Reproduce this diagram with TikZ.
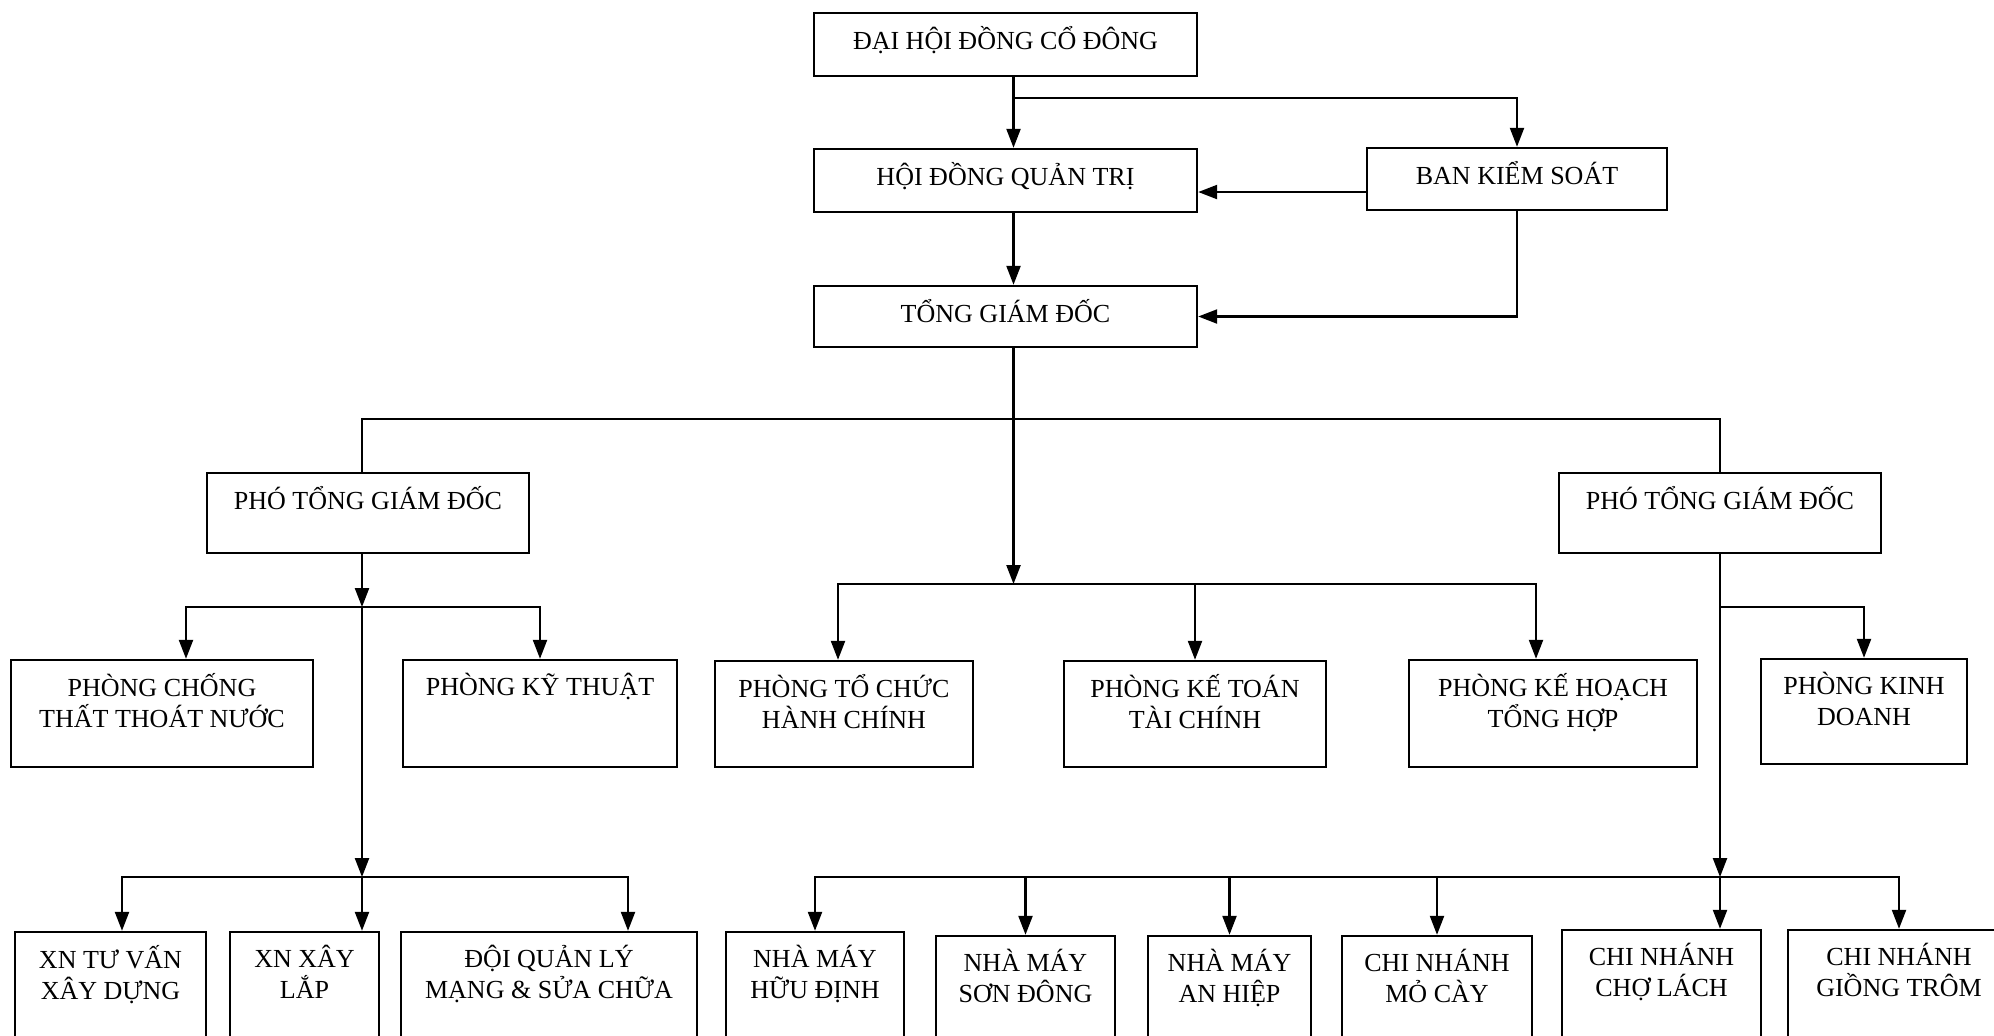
\documentclass[tikz,border=0pt]{standalone}
\usepackage{fontspec}
\setmainfont{Liberation Serif}
\usetikzlibrary{arrows.meta, positioning, fit}

\begin{document}
\begin{tikzpicture}[x=0.01cm, y=-0.01cm,
  box/.style={draw, line width=0.7pt, inner sep=0pt},
  lbl/.style={align=center, inner sep=0pt, font=\fontsize{7.4}{8.65}\selectfont},
  arr/.style={line width=0.6pt, -{Triangle[length=5.4pt, width=4pt]}}]
\useasboundingbox (0,0) rectangle (1994,1035);
%
\node[box, fit={(814,13) (1197,76)}]    (dh)  {};
\node[box, fit={(814,149) (1197,212)}]  (hd)  {};
\node[box, fit={(1367,148) (1667,210)}] (bk)  {};
\node[box, fit={(814,286) (1197,347)}]  (tg)  {};
\node[box, fit={(207,473) (529,553)}]   (pl)  {};
\node[box, fit={(1559,473) (1881,553)}] (pr)  {};
%
\node[box, fit={(11,660) (313,767)}]    (pc)  {};
\node[box, fit={(403,660) (677,767)}]   (kt)  {};
\node[box, fit={(715,661) (973,767)}]   (tc)  {};
\node[box, fit={(1064,661) (1326,767)}] (kte) {};
\node[box, fit={(1409,660) (1697,767)}] (kh)  {};
\node[box, fit={(1761,659) (1967,764)}] (kd)  {};
%
\node[box, fit={(15,932) (206,1100)}]   (tv)  {};
\node[box, fit={(230,932) (379,1100)}]  (xl)  {};
\node[box, fit={(401,932) (697,1100)}]  (dq)  {};
\node[box, fit={(726,932) (904,1100)}]  (hu)  {};
\node[box, fit={(936,936) (1115,1100)}] (so)  {};
\node[box, fit={(1148,936) (1311,1100)}] (ah) {};
\node[box, fit={(1342,936) (1532,1100)}] (mc) {};
\node[box, fit={(1562,930) (1761,1100)}] (cl) {};
\node[box, fit={(1788,930) (2010,1100)}] (gt) {};
%
\node[lbl, below=4pt of dh.north]  (dh-t)  {ĐẠI HỘI ĐỒNG CỔ ĐÔNG};
\node[lbl, below=4pt of hd.north]  (hd-t)  {HỘI ĐỒNG QUẢN TRỊ};
\node[lbl, below=4pt of bk.north]  (bk-t)  {BAN KIỂM SOÁT};
\node[lbl, below=4pt of tg.north]  (tg-t)  {TỔNG GIÁM ĐỐC};
\node[lbl, below=4pt of pl.north]  (pl-t)  {PHÓ TỔNG GIÁM ĐỐC};
\node[lbl, below=4pt of pr.north]  (pr-t)  {PHÓ TỔNG GIÁM ĐỐC};
\node[lbl, below=4pt of pc.north]  (pc-t)  {PHÒNG CHỐNG\\THẤT THOÁT NƯỚC};
\node[lbl, below=4pt of kt.north]  (kt-t)  {PHÒNG KỸ THUẬT};
\node[lbl, below=4pt of tc.north]  (tc-t)  {PHÒNG TỔ CHỨC\\HÀNH CHÍNH};
\node[lbl, below=4pt of kte.north] (kte-t) {PHÒNG KẾ TOÁN\\TÀI CHÍNH};
\node[lbl, below=4pt of kh.north]  (kh-t)  {PHÒNG KẾ HOẠCH\\TỔNG HỢP};
\node[lbl, below=4pt of kd.north]  (kd-t)  {PHÒNG KINH\\DOANH};
\node[lbl, below=4pt of tv.north]  (tv-t)  {XN TƯ VẤN\\XÂY DỰNG};
\node[lbl, below=4pt of xl.north]  (xl-t)  {XN XÂY\\LẮP};
\node[lbl, below=4pt of dq.north]  (dq-t)  {ĐỘI QUẢN LÝ\\MẠNG \& SỬA CHỮA};
\node[lbl, below=4pt of hu.north]  (hu-t)  {NHÀ MÁY\\HỮU ĐỊNH};
\node[lbl, below=4pt of so.north]  (so-t)  {NHÀ MÁY\\SƠN ĐÔNG};
\node[lbl, below=4pt of ah.north]  (ah-t)  {NHÀ MÁY\\AN HIỆP};
\node[lbl, below=4pt of mc.north]  (mc-t)  {CHI NHÁNH\\MỎ CÀY};
\node[lbl, below=4pt of cl.north]  (cl-t)  {CHI NHÁNH\\CHỢ LÁCH};
\node[lbl, below=4pt of gt.north]  (gt-t)  {CHI NHÁNH\\GIỒNG TRÔM};
%
\coordinate (ds) at ([xshift=0.08cm]dh.south);
\coordinate (ts) at ([xshift=0.08cm]tg.south);
\draw[arr] (ds) -- (ds |- hd.north);
\draw[arr] (ds) ++(0,21) -| (bk.north);
\draw[arr] (ds |- hd.south) -- (ds |- tg.north);
\coordinate (bkin) at ([yshift=-0.13cm]bk.west);
\draw[arr] (bkin) -- (bkin -| hd.east);
\draw[arr] (bk.south) |- (tg.east);
%
\coordinate (ps) at ([xshift=-0.06cm]pl.south);
\draw[line width=0.6pt] (ps |- pl.north) -- ++(0,-53) -| (pr.north);
\coordinate (mb) at (ts |- 0,584);
\draw[arr] (ts) -- (mb);
\draw[arr] (mb) -| (tc.north -| 838,0);
\draw[arr] (mb) -| (kte.north);
\draw[arr] (mb) -| (kh.north -| 1536,0);
%
\coordinate (lb1) at (ps |- 0,607);
\coordinate (lb2) at (ps |- 0,877);
\draw[arr] (ps) -- (lb1);
\draw[arr] (lb1) -- (lb2);
\draw[arr] (lb1) -| (pc.north -| 186,0);
\draw[arr] (lb1) -| (kt.north);
\draw[arr] (lb2) -- (lb2 |- xl.north);
\draw[arr] (lb2) -| (tv.north -| 122,0);
\draw[arr] (lb2) -| (dq.north -| 628,0);
%
\coordinate (rb1) at (pr.south |- 0,607);
\coordinate (rb2) at (pr.south |- 0,877);
\draw[arr] (pr.south) -- (rb2);
\draw[arr] (rb1) -| (kd.north);
\draw[arr] (rb2) -- (rb2 |- cl.north);
\draw[arr] (rb2) -| (hu.north);
\draw[arr] (rb2) -| (so.north);
\draw[arr] (rb2) -| (ah.north);
\draw[arr] (rb2) -| (mc.north);
\draw[arr] (rb2) -| (gt.north);
%
\end{tikzpicture}
\end{document}
